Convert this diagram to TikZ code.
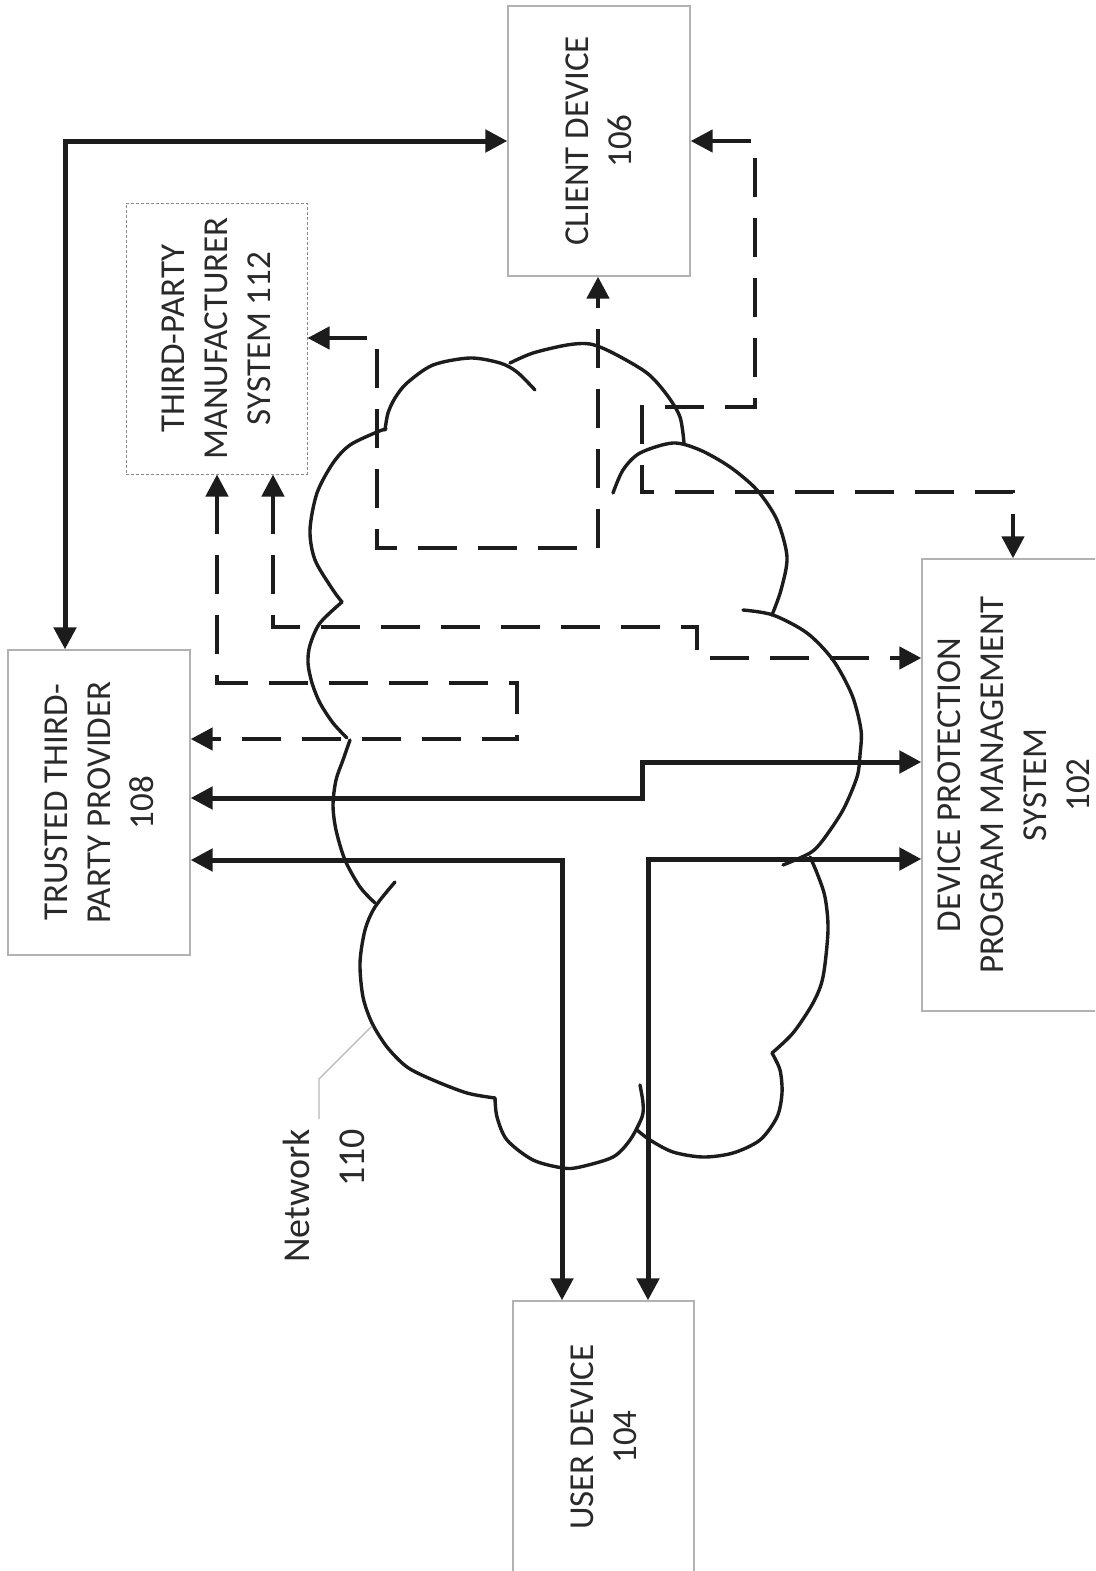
\documentclass[tikz,border=0pt]{standalone}
\usepackage{fontspec}
\setmainfont{Carlito}
\usetikzlibrary{arrows.meta}
\definecolor{ink}{HTML}{1C1C1C}
\definecolor{txt}{HTML}{2A2A2A}
\definecolor{boxgray}{HTML}{B2B2B2}
\definecolor{dotgray}{HTML}{8A8A8A}
\definecolor{leadgray}{HTML}{B8B8B8}
\begin{document}
\begin{tikzpicture}[x=1pt,y=-1pt,
  >={Triangle[length=22pt,width=22pt]},
  box/.style={draw=boxgray, line width=1.3pt, inner sep=0pt, fill=white},
  dotbox/.style={draw=dotgray, line width=1pt, dash pattern=on 3pt off 2pt, inner sep=0pt, fill=white},
  lbl/.style={rotate=90, align=center, inner sep=0pt, text=txt, font=\fontsize{35}{43}\selectfont},
  sline/.style={line width=5pt, draw=ink},
  dline/.style={line width=4.5pt, draw=ink, dash pattern=on 39pt off 21pt},
  cloudline/.style={line width=3.4pt, draw=ink, line cap=round},
  leader/.style={line width=1.2pt, draw=leadgray}]
\useasboundingbox (0,0) rectangle (1095,1571);
\clip (0,0) rectangle (1095,1571);
\fill[white] (0,0) rectangle (1095,1571);

% ---- boxes ----
\node[box, minimum width=182pt, minimum height=270pt] (client) at (599,141) {};
\node[lbl] (clientt) at (client.center) {CLIENT DEVICE\\106};
\node[dotbox, minimum width=181pt, minimum height=271pt] (third) at (216.5,338.5) {};
\node[lbl] (thirdt) at (third.center) {THIRD-PARTY\\MANUFACTURER\\SYSTEM 112};
\node[box, minimum width=182pt, minimum height=305pt] (trusted) at (99,802.5) {};
\node[lbl] (trustedt) at (trusted.center) {TRUSTED THIRD-\\PARTY PROVIDER\\108};
\node[box, minimum width=183pt, minimum height=452pt] (dppms) at (1013.5,785) {};
\node[lbl] (dppmst) at (dppms.center) {DEVICE PROTECTION\\PROGRAM MANAGEMENT\\SYSTEM\\102};
\node[box, minimum width=181pt, minimum height=272pt] (user) at (603.5,1437) {};
\node[lbl] (usert) at (user.center) {USER DEVICE\\104};

% ---- cloud (network 110) ----
\begin{scope}[cloudline]
\draw plot[smooth] coordinates {(342,602) (333,590) (315,560) (310,530) (317,493) (333,463) (350,445) (377,432) (386,429)};
\draw plot[smooth] coordinates {(385,430) (388,413) (395,398) (407,383) (433,365) (470,358) (500,363) (517,372) (535,390)};
\draw plot[smooth] coordinates {(510,363) (533,353) (567,345) (590,344) (613,353) (647,373) (667,395) (680,417) (684,443)};
\draw plot[smooth] coordinates {(613,493) (623,470) (640,453) (673,443) (700,450) (730,467) (757,490) (777,520) (787,557) (781,590) (772,615)};
\draw plot[smooth] coordinates {(743,610) (773,615) (807,633) (833,660) (852,695) (861,730) (860,755) (857,777) (843,810) (823,840) (810,853) (783,865)};
\draw plot[smooth] coordinates {(810,857) (817,873) (825,897) (828,930) (823,977) (813,1003) (793,1033) (772,1053)};
\draw plot[smooth] coordinates {(772,1053) (780,1070) (782,1093) (777,1117) (760,1140) (733,1153) (703,1157) (673,1152) (650,1140) (637,1130)};
\draw plot[smooth] coordinates {(640,1085) (643,1103) (642,1117) (630,1140) (613,1157) (580,1167) (563,1168) (533,1160) (507,1140) (497,1117) (495,1098)};
\draw plot[smooth] coordinates {(495,1098) (467,1093) (433,1080) (407,1067) (387,1047) (372,1023) (363,997) (360,963) (365,930) (375,907) (395,882)};
\draw plot[smooth] coordinates {(350,740) (343,760) (336,780) (333,805) (336,830) (345,860) (360,887) (375,903)};
\draw plot[smooth] coordinates {(342,602) (320,623) (310,645) (308,663) (312,683) (320,703) (333,723) (347,738)};
\end{scope}

% ---- network label ----
\node[rotate=90, align=right, anchor=east, inner sep=0pt, text=txt,
      font=\fontsize{38}{55}\selectfont] (netlbl) at (324,1129) {Network\\110};
\coordinate (cloudpt) at (372,1026);
\draw[leader] ([yshift=10pt]netlbl.east -| 319,0) -- (319,1079) -- (cloudpt);

% ---- solid connectors ----
\draw[sline,<->] (trusted.north -| 65,0) -- (65,141) -- (client.west |- 0,141);
\draw[sline,<->] (trusted.east |- 0,798) -- (642,798) -- (642,762) -- (dppms.west |- 0,762);
\draw[sline,<->] (trusted.east |- 0,860) -- (562,860) -- (user.north -| 562,0);
\draw[sline,<->] (dppms.west |- 0,859) -- (648,859) -- (user.north -| 648,0);

% ---- dashed connectors ----
\draw[dline,<->] (third.east |- 0,338) -- (377,338) -- (377,548) -- (598,548) -- (client.south -| 598,0);
\draw[dline,<->] (client.east |- 0,141) -- (755,141) -- (755,407) -- (642,407) -- (642,492) -- (1013,492) -- (dppms.north -| 1013,0);
\draw[dline,<->] (third.south -| 273,0) -- (273,627) -- (697,627) -- (697,658) -- (dppms.west |- 0,658);
\draw[dline,<->] (third.south -| 217,0) -- (217,683) -- (517,683) -- (517,739) -- (trusted.east |- 0,739);
\end{tikzpicture}
\end{document}
